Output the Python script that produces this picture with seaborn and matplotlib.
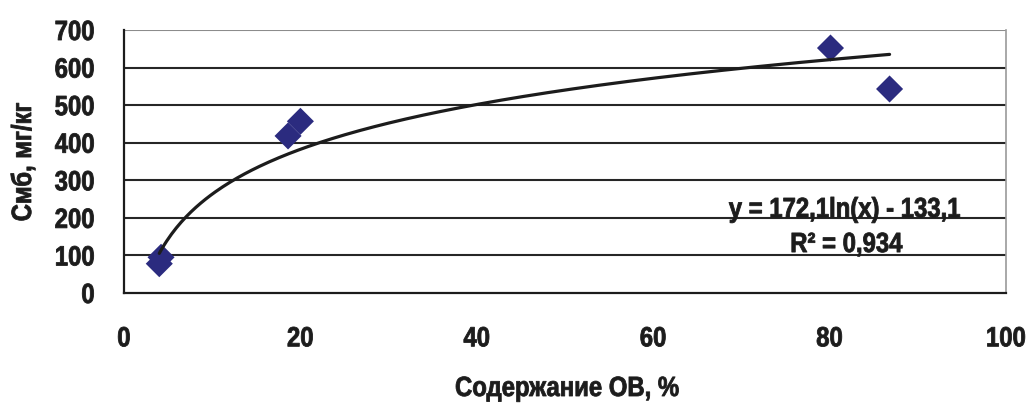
import numpy as np
import pandas as pd
import matplotlib
matplotlib.use("Agg")
import matplotlib.pyplot as plt
import matplotlib.patheffects as pe
from matplotlib.transforms import Affine2D
import seaborn as sns

# Organic matter content, % and microbial biomass carbon, mg/kg
ov_content = [4.0, 4.2, 18.6, 20.0, 80.1, 86.8]
cmb_values = [78, 95, 418, 457, 652, 543]

# Logarithmic trend: y = a*ln(x) + b
trend_a = 172.1
trend_b = -133.1
r_squared = 0.934

x_ticks = [0, 20, 40, 60, 80, 100]
y_ticks = [0, 100, 200, 300, 400, 500, 600, 700]

INK = "#1c1c1c"


class Condense(pe.AbstractPathEffect):
    """Narrow (and slightly embolden) the glyphs, keeping a chosen anchor fixed."""

    def __init__(self, sx=0.86, anchor="center", stroke=0.6):
        super().__init__()
        self.sx = sx
        self.anchor = anchor
        self.stroke = stroke

    def draw_path(self, renderer, gc, tpath, affine, rgbFace=None):
        xs = tpath.vertices[:, 0]
        if len(xs):
            lo, hi = xs.min(), xs.max()
        else:
            lo = hi = 0.0
        pivot = {"center": 0.5 * (lo + hi), "right": hi, "left": lo}[self.anchor]
        squeeze = Affine2D().translate(-pivot, 0).scale(self.sx, 1).translate(pivot, 0)
        gc0 = renderer.new_gc()
        gc0.copy_properties(gc)
        gc0.set_linewidth(self.stroke)
        gc0.set_foreground(rgbFace)
        gc0.set_joinstyle("round")
        renderer.draw_path(gc0, tpath, squeeze + affine, rgbFace)
        gc0.restore()


sns.set_theme(style="white")
plt.rcParams["font.family"] = ["Liberation Sans", "DejaVu Sans"]
plt.rcParams["font.weight"] = "bold"

fig = plt.figure(figsize=(10.31, 4.03), dpi=100)
ax = fig.add_axes([124 / 1031, 1 - 293 / 403, (1006 - 124) / 1031, (293 - 30) / 403])

df = pd.DataFrame({"x": ov_content, "y": cmb_values})
xs = np.linspace(min(ov_content), max(ov_content), 300)
trend = pd.DataFrame({"x": xs, "y": trend_a * np.log(xs) + trend_b})

# horizontal gridlines
for v in y_ticks[1:]:
    ax.axhline(v, color="#8c8c8c" if v == y_ticks[-1] else "#262626", lw=1.5, zorder=0)

sns.scatterplot(data=df, x="x", y="y", marker="D", s=190, color="#2b2b7f",
                edgecolor="none", ax=ax, zorder=2)
sns.lineplot(data=trend, x="x", y="y", color=INK, lw=2.3, ax=ax, zorder=3)

ax.set_xlim(0, 100)
ax.set_ylim(0, 700)
ax.set_xticks(x_ticks)
ax.set_yticks(y_ticks)
ax.tick_params(axis="both", which="both", direction="inout", length=14, width=1.3,
               color=INK, labelsize=20)
ax.tick_params(axis="x", pad=17)
ax.tick_params(axis="y", pad=14)
for lab in ax.get_xticklabels():
    lab.set_fontweight("bold")
    lab.set_color(INK)
    lab.set_path_effects([Condense(0.86, "center")])
for lab in ax.get_yticklabels():
    lab.set_fontweight("bold")
    lab.set_color(INK)
    lab.set_path_effects([Condense(0.86, "right")])

for side in ["left", "bottom"]:
    ax.spines[side].set_color(INK)
    ax.spines[side].set_linewidth(1.6)
ax.spines["top"].set_visible(False)
ax.spines["right"].set_color("#9a9a9a")
ax.spines["right"].set_linewidth(1.2)

ax.set_xlabel("")
ax.set_ylabel("")
narrow = [Condense(0.86, "center")]
fig.text(567 / 1031, 1 - 396 / 403, "Содержание ОВ, %", ha="center", va="baseline",
         fontsize=20, fontweight="bold", color=INK, path_effects=narrow)
fig.text(24 / 1031, 1 - 162 / 403, "Смб, мг/кг", ha="center", va="center", rotation=90,
         fontsize=20, fontweight="bold", color=INK, path_effects=narrow)

ax.text(81.7, 202, f"y = {trend_a:.1f}ln(x) - {abs(trend_b):.1f}".replace(".", ","),
        ha="center", va="baseline", fontsize=20, fontweight="bold", color=INK,
        path_effects=narrow)
ax.text(81.9, 109, f"R² = {r_squared:.3f}".replace(".", ","),
        ha="center", va="baseline", fontsize=20, fontweight="bold", color=INK,
        path_effects=narrow)

fig.savefig("out.png", dpi=100)
